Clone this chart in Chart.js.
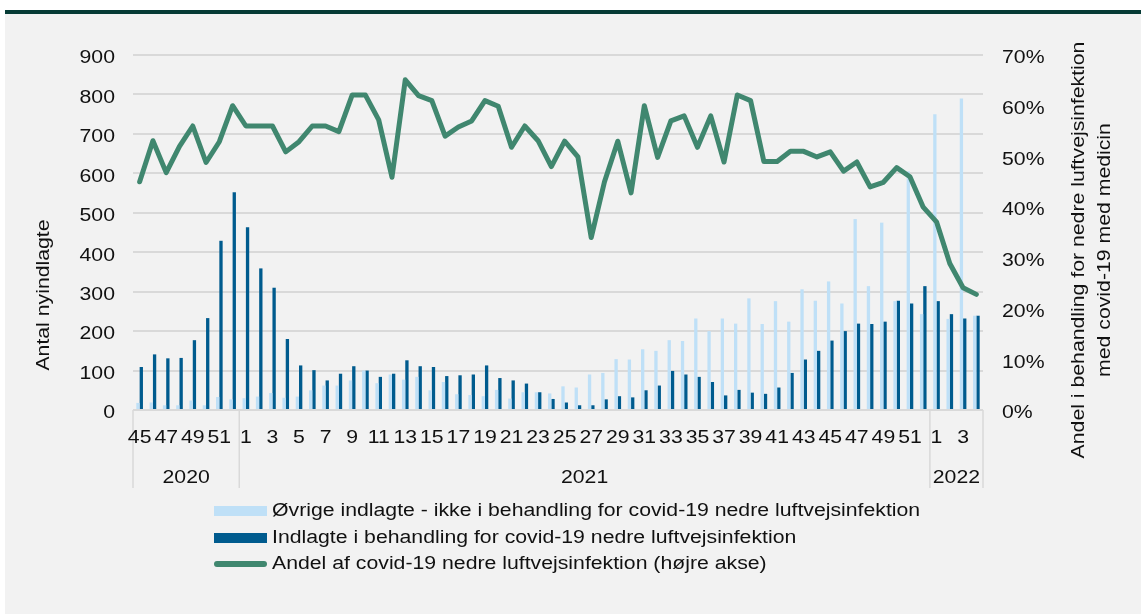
<!DOCTYPE html>
<html>
<head>
<meta charset="utf-8">
<script src="https://cdn.jsdelivr.net/npm/chart.js@4/dist/chart.umd.min.js"></script>
<style>
  body { margin: 0; background: #fff; font-family: "Liberation Sans", Arial, sans-serif; }
  #wrap { position: relative; width: 1141px; height: 614px; overflow: hidden; }
  #topline { position: absolute; left: 5px; top: 10px; width: 1136px; height: 4px; background: #063b35; }
  #panel { position: absolute; left: 5px; top: 14px; width: 1136px; height: 600px; background: #f2f2f2; }
  #chart { position: absolute; left: 0; top: 0; }
  #legend { position: absolute; left: 214px; top: 497px; font-size: 18px; color: #111; }
  #legend div { height: 26.5px; line-height: 26.5px; white-space: nowrap; }
  #legend span.sw { display: inline-block; width: 53px; vertical-align: middle; margin-right: 5px; }
  #legend span.tx { display: inline-block; transform: scaleX(1.18); transform-origin: left center; }
</style>
</head>
<body>
<div id="wrap">
  <div id="topline"></div>
  <div id="panel"></div>
  <canvas id="chart" width="1141" height="614"></canvas>
  <div id="legend"></div>
</div>
<script>
// uge-labels (2020 uge 45-52, 2021 uge 1-52, 2022 uge 1-4)
var weekLabels = [45,46,47,48,49,50,51,52,
  1,2,3,4,5,6,7,8,9,10,11,12,13,14,15,16,17,18,19,20,21,22,23,24,25,26,
  27,28,29,30,31,32,33,34,35,36,37,38,39,40,41,42,43,44,45,46,47,48,49,50,51,52,
  1,2,3,4];
var years = ['2020', '2021', '2022'];
var weeksPerYear = [8, 52, 4];

var oevrige = [18,19,12,12,24,12,33,27,
  30,34,43,31,34,50,62,62,75,100,68,90,77,84,50,71,40,38,35,51,29,45,45,42,60,57,
  90,94,129,128,154,150,177,175,232,200,232,219,283,218,276,224,306,277,326,270,484,314,475,276,605,243,
  750,231,790,239];
var behandling = [109,141,131,132,177,233,429,552,
  463,359,310,180,113,101,75,92,111,100,84,92,126,111,109,86,88,90,113,81,75,67,45,28,19,12,
  12,27,35,32,50,62,99,90,84,71,37,51,44,41,57,94,128,150,176,200,219,218,224,277,270,314,
  276,243,232,239];
var andel = [45,53.1,46.8,52,56,48.8,52.9,60,
  56,56,56,50.9,52.9,56,56,54.9,62.1,62.1,57.2,45.9,65.1,62,61,54,55.8,57,61,59.9,51.8,56,53.1,48,53,49.9,
  34,45,53,42.8,60,49.8,57,58,51.8,58,48.9,62.1,61,49,49,51,51,49.9,50.9,47.1,48.9,44,44.9,47.8,46,40,
  37.1,28.9,24.1,22.8];

var leftTitle = 'Antal nyindlagte';
var rightTitle = ['Andel i behandling for nedre luftvejsinfektion', 'med covid-19 med medicin'];

var lightBlue = '#bfe0f7';
var darkBlue = '#005b8e';
var green = '#40876f';
var fontFam = '"Liberation Sans", Arial, sans-serif';
var stretch = 1.18; // teksten i figuren er bredere end Arial

function wideText(ctx, txt, x, y, align, rot) {
  ctx.save();
  ctx.translate(x, y);
  if (rot) ctx.rotate(rot);
  ctx.scale(stretch, 1);
  ctx.textAlign = align;
  ctx.fillText(txt, 0, 0);
  ctx.restore();
}

var extras = {
  id: 'extras',
  afterDraw: function(chart) {
    var ctx = chart.ctx;
    var x = chart.scales.x, y = chart.scales.y, y1 = chart.scales.y1;
    var area = chart.chartArea;
    ctx.save();
    // skillelinjer mellem år
    var bounds = [area.left];
    var idx = 0;
    for (var i = 0; i < weeksPerYear.length; i++) {
      idx += weeksPerYear[i];
      if (idx < weekLabels.length) {
        bounds.push((x.getPixelForValue(idx - 1) + x.getPixelForValue(idx)) / 2);
      }
    }
    bounds.push(area.right);
    ctx.strokeStyle = '#d9d9d9';
    ctx.lineWidth = 1.5;
    bounds.forEach(function(b) {
      ctx.beginPath();
      ctx.moveTo(b, area.bottom);
      ctx.lineTo(b, 488);
      ctx.stroke();
    });

    ctx.fillStyle = '#111';
    ctx.font = '18px ' + fontFam;
    ctx.textBaseline = 'alphabetic';
    // aksetal
    y.ticks.forEach(function(t) {
      wideText(ctx, String(t.value), 115, y.getPixelForValue(t.value) + 8.3, 'right');
    });
    y1.ticks.forEach(function(t) {
      wideText(ctx, t.value + '%', 1002, y1.getPixelForValue(t.value) + 8.3, 'left');
    });
    weekLabels.forEach(function(w, k) {
      if (k % 2 === 0) wideText(ctx, String(w), x.getPixelForValue(k), 443, 'center');
    });
    // årstal
    for (var j = 0; j < years.length; j++) {
      wideText(ctx, years[j], (bounds[j] + bounds[j + 1]) / 2, 483, 'center');
    }
    // aksetitler
    ctx.textBaseline = 'middle';
    wideText(ctx, leftTitle, 44, 295, 'center', -Math.PI / 2);
    wideText(ctx, rightTitle[0], 1079, 250, 'center', -Math.PI / 2);
    wideText(ctx, rightTitle[1], 1105, 250, 'center', -Math.PI / 2);
    ctx.restore();
  }
};

var ctx = document.getElementById('chart');
var myChart = new Chart(ctx, {
  type: 'bar',
  data: {
    labels: weekLabels,
    datasets: [
      {
        type: 'line',
        label: 'Andel af covid-19 nedre luftvejsinfektion (højre akse)',
        data: andel,
        yAxisID: 'y1',
        borderColor: green,
        backgroundColor: green,
        borderWidth: 5,
        pointRadius: 0,
        tension: 0,
        borderJoinStyle: 'round',
        borderCapStyle: 'round',
        order: 0
      },
      {
        label: 'Øvrige indlagte - ikke i behandling for covid-19 nedre luftvejsinfektion',
        data: oevrige,
        backgroundColor: lightBlue,
        yAxisID: 'y',
        order: 1
      },
      {
        label: 'Indlagte i behandling for covid-19 nedre luftvejsinfektion',
        data: behandling,
        backgroundColor: darkBlue,
        yAxisID: 'y',
        order: 2
      }
    ]
  },
  options: {
    responsive: false,
    animation: false,
    devicePixelRatio: 1,
    categoryPercentage: 0.5,
    barPercentage: 1.0,
    layout: { padding: { top: 55, left: 0, right: 0, bottom: 0 } },
    plugins: {
      legend: { display: false },
      tooltip: { enabled: false }
    },
    scales: {
      x: {
        grid: { display: false, drawTicks: false },
        border: { display: false },
        ticks: { display: false, autoSkip: false, maxRotation: 0 },
        afterFit: function(s) { s.height = 204; }
      },
      y: {
        position: 'left',
        min: 0,
        max: 900,
        grid: { color: '#d9d9d9', lineWidth: 2, drawTicks: false },
        border: { display: false },
        ticks: { display: false, stepSize: 100 },
        afterFit: function(s) { s.width = 133; }
      },
      y1: {
        position: 'right',
        min: 0,
        max: 70,
        grid: { display: false, drawTicks: false },
        border: { display: false },
        ticks: { display: false, stepSize: 10 },
        afterFit: function(s) { s.width = 158; }
      }
    }
  },
  plugins: [extras]
});

// legende som html, i samme rækkefølge som i figuren
var legendOrder = [1, 2, 0];
var legendEl = document.getElementById('legend');
legendOrder.forEach(function(k) {
  var ds = myChart.data.datasets[k];
  var row = document.createElement('div');
  var sw = document.createElement('span');
  sw.className = 'sw';
  if (ds.type === 'line') {
    sw.style.height = '6px';
    sw.style.borderRadius = '3px';
    sw.style.background = ds.borderColor;
  } else {
    sw.style.height = '10px';
    sw.style.background = ds.backgroundColor;
  }
  var tx = document.createElement('span');
  tx.className = 'tx';
  tx.textContent = ds.label;
  row.appendChild(sw);
  row.appendChild(tx);
  legendEl.appendChild(row);
});
</script>
</body>
</html>
